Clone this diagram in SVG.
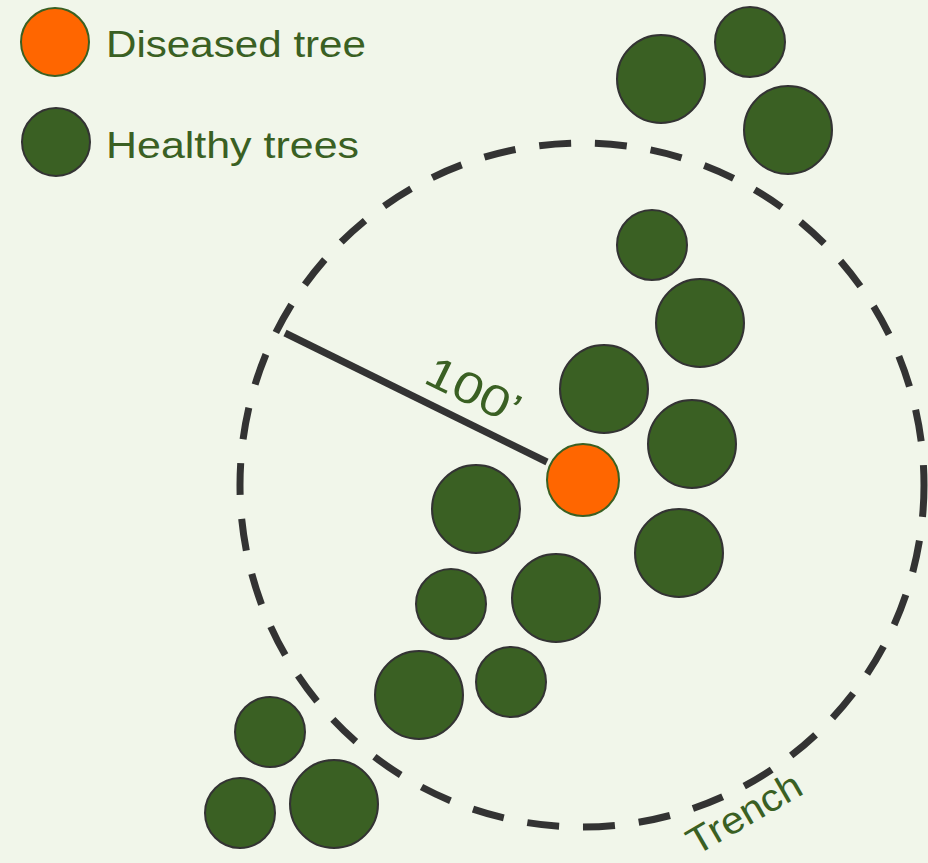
<svg xmlns="http://www.w3.org/2000/svg" width="928" height="863" viewBox="0 0 928 863">
<style>
.tree{fill:#3a6023;stroke:#333333;stroke-width:2}
.sick{fill:#ff6600;stroke:#3a6023;stroke-width:2}
.lbl{font-family:"Century Gothic","URW Gothic","Liberation Sans",sans-serif;fill:#3a6023}
</style>
<rect width="928" height="863" fill="#f1f6ea"/>
<g id="legend">
<g id="legend-diseased"><circle class="sick" cx="55" cy="42" r="34"/><text class="lbl" x="106" y="57" font-size="36" textLength="260" lengthAdjust="spacingAndGlyphs">Diseased tree</text></g>
<g id="legend-healthy"><circle class="tree" cx="56" cy="142" r="34"/><text class="lbl" x="106" y="158" font-size="36" textLength="253" lengthAdjust="spacingAndGlyphs">Healthy trees</text></g>
</g>
<g id="connectors">
<circle id="trench" cx="582" cy="485" r="342" fill="none" stroke="#333333" stroke-width="7" stroke-dasharray="32 24"/>
<line id="radius" x1="285" y1="333" x2="547" y2="462" stroke="#333333" stroke-width="7"/>
</g>
<g id="trees">
<circle class="tree" cx="661" cy="79" r="44"/>
<circle class="tree" cx="750" cy="42" r="35"/>
<circle class="tree" cx="788" cy="130" r="44"/>
<circle class="tree" cx="652" cy="245" r="35"/>
<circle class="tree" cx="700" cy="323" r="44"/>
<circle class="tree" cx="604" cy="389" r="44"/>
<circle class="tree" cx="692" cy="444" r="44"/>
<circle class="tree" cx="476" cy="509" r="44"/>
<circle class="tree" cx="679" cy="553" r="44"/>
<circle class="tree" cx="451" cy="604" r="35"/>
<circle class="tree" cx="556" cy="598" r="44"/>
<circle class="tree" cx="419" cy="695" r="44"/>
<circle class="tree" cx="511" cy="682" r="35"/>
<circle class="tree" cx="270" cy="732" r="35"/>
<circle class="tree" cx="240" cy="813" r="35"/>
<circle class="tree" cx="334" cy="804" r="44"/>
</g>
<g id="diseased"><circle class="sick" cx="583" cy="480" r="36"/></g>
<text class="lbl" font-size="44" textLength="100" lengthAdjust="spacingAndGlyphs" transform="translate(422,382) rotate(26)">100’</text>
<text class="lbl" font-size="38" textLength="126" lengthAdjust="spacingAndGlyphs" transform="translate(696,856) rotate(-30)">Trench</text>
</svg>
